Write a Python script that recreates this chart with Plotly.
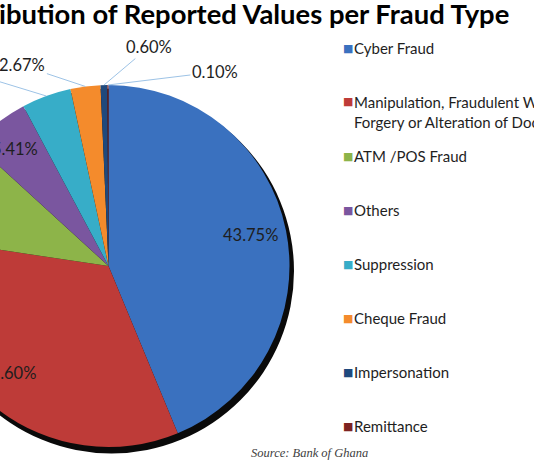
import math
import plotly.graph_objects as go

# ---------------- data ----------------
categories = ["Cyber Fraud",
              "Manipulation, Fraudulent Withdrawals, Forgery or Alteration of Documents",
              "ATM /POS Fraud", "Others", "Suppression", "Cheque Fraud",
              "Impersonation", "Remittance"]
legend_labels = ["Cyber Fraud",
                 "Manipulation, Fraudulent Withdrawals,<br>Forgery or Alteration of Documents",
                 "ATM /POS Fraud", "Others", "Suppression", "Cheque Fraud",
                 "Impersonation", "Remittance"]
shares = [43.75, 33.60, 9.45, 5.41, 4.42, 2.67, 0.60, 0.10]
title_text = "Distribution of Reported Values per Fraud Type"
source_text = "Source: Bank of Ghana"

# ---------------- style / layout ----------------
colors = ["#3a71bf", "#be3b38", "#8db449", "#7a569f", "#37adc8", "#f48b2c",
          "#1f497d", "#7d2321"]
label_inside = [True, True, True, True, False, False, False, False]
inside_nudge = {0: (-4, -2), 1: (-9, -10), 3: (-3, 0)}
outside_offsets = {4: (-85, -26), 5: (-63, -21), 6: (45, -38), 7: (107, -13)}

HIDDEN = 200                      # part of the figure left of the visible window
W, H = HIDDEN + 534, 462
CX, CY, R = HIDDEN + 108.5, 266, 181
FONT = "Lato"
TXT = "#1e1e1e"


def dom(cx, cy, r):
    return dict(x=[(cx - r) / W, (cx + r) / W], y=[1 - (cy + r) / H, 1 - (cy - r) / H])


fig = go.Figure()
# drop shadow
fig.add_trace(go.Pie(values=[sum(shares)], labels=["shadow"],
                     marker=dict(colors=["#0a0a0a"], line=dict(width=0)),
                     domain=dom(CX + 3, CY + 5, R + 1.5), textinfo="none",
                     hoverinfo="skip", showlegend=False, sort=False))
fig.add_trace(go.Pie(labels=categories, values=shares,
                     marker=dict(colors=colors, line=dict(width=0)),
                     sort=False, direction="clockwise", rotation=0,
                     textinfo="none", showlegend=False, domain=dom(CX, CY, R),
                     hovertemplate="%{label}: %{value:.2f}%<extra></extra>"))

total = sum(shares)
cum = 0.0
for i, v in enumerate(shares):
    mid = math.radians((cum + v / 2) / total * 360)
    cum += v
    txt = f"{v:.2f}%"
    if label_inside[i]:
        r = 0.82 * R
        nx, ny = inside_nudge.get(i, (0, 0))
        x, y = CX + r * math.sin(mid) + nx, CY - r * math.cos(mid) + ny
        fig.add_annotation(x=x / W, y=1 - y / H, xref="paper", yref="paper",
                           xanchor="center", yanchor="middle",
                           text=txt, showarrow=False,
                           font=dict(family=FONT, size=16.5, color=TXT))
    else:
        x, y = CX + R * math.sin(mid), CY - R * math.cos(mid)
        ax, ay = outside_offsets[i]
        fig.add_annotation(x=x / W, y=1 - y / H, xref="paper", yref="paper",
                           text=txt, showarrow=True, ax=ax, ay=ay,
                           arrowhead=0, arrowwidth=1, arrowcolor="#9dc3e6",
                           standoff=0, font=dict(family=FONT, size=16.5, color=TXT))

# legend (right side)
for i, name in enumerate(legend_labels):
    yl = 48 + 54 * i
    fig.add_annotation(x=(HIDDEN + 341) / W, y=1 - yl / H, xref="paper", yref="paper",
                       xanchor="left", yanchor="middle", showarrow=False,
                       text="■", font=dict(family="DejaVu Sans", size=11, color=colors[i]))
    fig.add_annotation(x=(HIDDEN + 352) / W, y=1 - (yl - 11) / H, xref="paper", yref="paper",
                       xanchor="left", yanchor="top", align="left", showarrow=False,
                       text=name, font=dict(family=FONT, size=15, color=TXT))

# title
fig.add_annotation(x=(HIDDEN + 511) / W, y=1 - 14 / H, xref="paper", yref="paper",
                   xanchor="right", yanchor="middle", showarrow=False,
                   text=f"<b>{title_text}</b>",
                   font=dict(family=FONT, size=27.4, color="#000000"))
# source
fig.add_annotation(x=(HIDDEN + 249) / W, y=1 - 453 / H, xref="paper", yref="paper",
                   xanchor="left", yanchor="middle", showarrow=False,
                   text=f"<i>{source_text}</i>",
                   font=dict(family="Liberation Serif", size=12.5, color="#404040"))

fig.update_layout(width=W, height=H, autosize=False,
                  margin=dict(l=0, r=0, t=0, b=0),
                  paper_bgcolor="white", plot_bgcolor="white")

post = ("document.body.style.margin='0';document.body.style.overflow='hidden';"
        "var g=document.getElementById('{plot_id}');g.style.marginLeft='-%dpx';" % HIDDEN)
fig.write_html("out.html", post_script=post, config={"displayModeBar": False})
